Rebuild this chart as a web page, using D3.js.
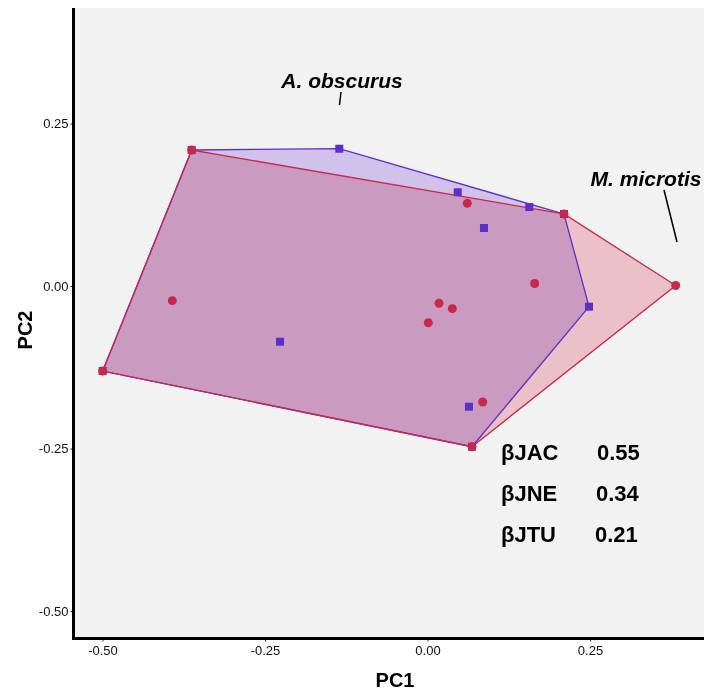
<!DOCTYPE html>
<html>
<head>
<meta charset="utf-8">
<script src="https://cdn.jsdelivr.net/npm/d3@7"></script>
<style>
  html, body { margin: 0; padding: 0; background: #ffffff; }
  svg { display: block; font-family: "Liberation Sans", Arial, sans-serif; }
</style>
</head>
<body>
<svg id="chart" width="704" height="692"></svg>
<script>
// ---- data ----
const groupNames = ["A. obscurus", "M. microtis"];
const obscurusPC1 = [-0.3628, -0.1357, 0.0465, 0.1566, 0.0869, 0.2100, 0.2485, 0.0685, 0.0638, -0.2269, -0.4997];
const obscurusPC2 = [0.2092, 0.2112, 0.1442, 0.1215, 0.0892, 0.1108, -0.0318, -0.2472, -0.1857, -0.0857, -0.1308];
const microtisPC1 = [-0.3628, 0.2100, 0.3818, 0.0685, -0.4997, -0.3926, 0.0612, 0.1649, 0.0177, 0.0382, 0.0012, 0.0849];
const microtisPC2 = [0.2092, 0.1108, 0.0008, -0.2472, -0.1308, -0.0226, 0.1272, 0.0038, -0.0266, -0.0349, -0.0565, -0.1785];
const xTicks = [-0.50, -0.25, 0.00, 0.25];
const yTicks = [-0.50, -0.25, 0.00, 0.25];
const betaNames = ["βJAC", "βJNE", "βJTU"];
const betaValues = ["0.55", "0.34", "0.21"];

// ---- layout ----
const svg = d3.select("#chart");
const panel = { left: 75, right: 704, top: 8, bottom: 637 };
const x = d3.scaleLinear().domain([-0.5, 0.25]).range([102.5, 590]);
const y = d3.scaleLinear().domain([-0.5, 0.25]).range([611, 123.5]);
const fmt = d => d3.format(".2f")(d).replace("\u2212", "-");

const purple = "#5b30c8";
const red = "#c8284a";

// panel background
svg.append("rect")
  .attr("x", panel.left).attr("y", panel.top)
  .attr("width", panel.right - panel.left).attr("height", panel.bottom - panel.top)
  .attr("fill", "#f2f2f2");

const obsPts = obscurusPC1.map((v, i) => [x(v), y(obscurusPC2[i])]);
const micPts = microtisPC1.map((v, i) => [x(v), y(microtisPC2[i])]);
const obsHull = d3.polygonHull(obsPts);
const micHull = d3.polygonHull(micPts);
const line = d3.line().curve(d3.curveLinearClosed);

const fills = svg.append("g");
fills.append("path").attr("d", line(obsHull))
  .attr("fill", "#dbcdf7").style("mix-blend-mode", "multiply");
fills.append("path").attr("d", line(micHull))
  .attr("fill", "#f9cbd3").style("mix-blend-mode", "multiply");

svg.append("path").attr("d", line(obsHull))
  .attr("fill", "none").attr("stroke", purple).attr("stroke-width", 1.3);
svg.append("path").attr("d", line(micHull))
  .attr("fill", "none").attr("stroke", red).attr("stroke-width", 1.3);

// points
svg.append("g").selectAll("rect").data(obsPts).join("rect")
  .attr("x", d => d[0] - 4).attr("y", d => d[1] - 4)
  .attr("width", 8).attr("height", 8)
  .attr("fill", purple);
svg.append("g").selectAll("circle").data(micPts).join("circle")
  .attr("cx", d => d[0]).attr("cy", d => d[1]).attr("r", 4.5)
  .attr("fill", red);

// axes
const yAxis = svg.append("g").attr("transform", `translate(${panel.left - 1.5},0)`)
  .call(d3.axisLeft(y).tickValues(yTicks).tickFormat(fmt).tickSize(3).tickPadding(2));
yAxis.select(".domain").remove();
yAxis.selectAll("text").attr("font-size", 13).attr("fill", "#111").attr("font-family", "Liberation Sans, Arial, sans-serif");
yAxis.selectAll("line").attr("stroke", "#222");

const xAxis = svg.append("g").attr("transform", `translate(0,${panel.bottom + 1.5})`)
  .call(d3.axisBottom(x).tickValues(xTicks).tickFormat(fmt).tickSize(3).tickPadding(4));
xAxis.select(".domain").remove();
xAxis.selectAll("text").attr("font-size", 13).attr("fill", "#111").attr("font-family", "Liberation Sans, Arial, sans-serif");
xAxis.selectAll("line").attr("stroke", "#333355");

// axis lines
svg.append("line").attr("x1", panel.left - 1.5).attr("x2", panel.left - 1.5)
  .attr("y1", panel.top).attr("y2", panel.bottom + 3)
  .attr("stroke", "#000").attr("stroke-width", 3);
svg.append("line").attr("x1", panel.left - 3).attr("x2", panel.right)
  .attr("y1", panel.bottom + 1.5).attr("y2", panel.bottom + 1.5)
  .attr("stroke", "#000").attr("stroke-width", 3);

// axis titles
svg.append("text").attr("x", 395).attr("y", 687).attr("text-anchor", "middle")
  .attr("font-size", 20).attr("font-weight", "bold").text("PC1");
svg.append("text").attr("transform", "translate(32,330) rotate(-90)").attr("text-anchor", "middle")
  .attr("font-size", 20).attr("font-weight", "bold").text("PC2");

// group annotations
const ann = svg.append("g").attr("font-size", 21).attr("font-weight", "bold").attr("font-style", "italic");
ann.append("text").attr("x", 342).attr("y", 88).attr("text-anchor", "middle").text(groupNames[0]);
svg.append("line").attr("x1", 341).attr("y1", 92).attr("x2", 339.5).attr("y2", 105)
  .attr("stroke", "#000").attr("stroke-width", 1.5);
ann.append("text").attr("x", 646).attr("y", 186).attr("text-anchor", "middle").text(groupNames[1]);
svg.append("line").attr("x1", 664).attr("y1", 190).attr("x2", 677).attr("y2", 242)
  .attr("stroke", "#000").attr("stroke-width", 1.5);

// beta diversity text
const bt = svg.append("g").attr("font-size", 22).attr("font-weight", "bold");
betaNames.forEach((n, i) => {
  bt.append("text").attr("x", 501).attr("y", 460 + i * 41).text(n);
  bt.append("text").attr("x", 597 - i).attr("y", 460 + i * 41).text(betaValues[i]);
});
</script>
</body>
</html>
